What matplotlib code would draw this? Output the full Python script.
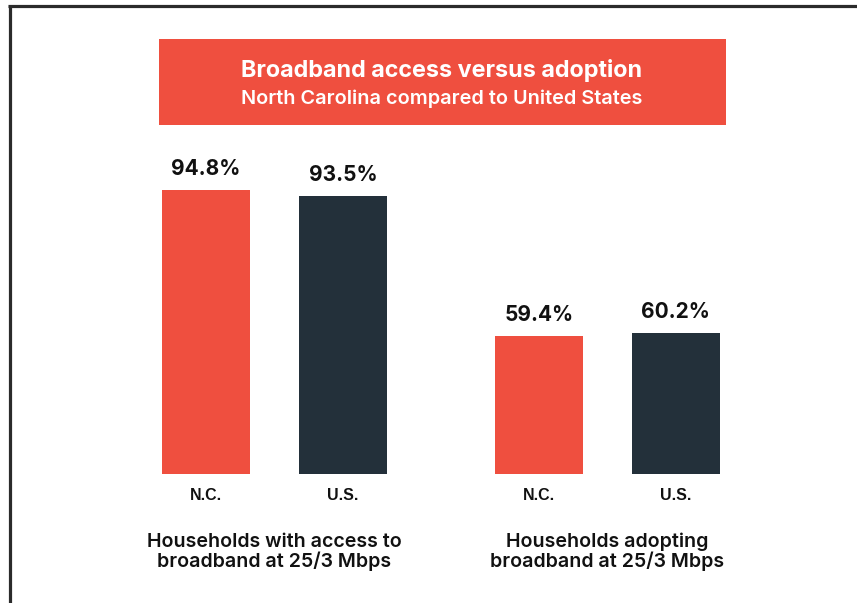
import matplotlib
matplotlib.use("Agg")
import matplotlib.pyplot as plt
from matplotlib.patches import Rectangle
from matplotlib.lines import Line2D
import matplotlib.transforms as mtransforms

# ---- data ----
groups = ["Households with access to\nbroadband at 25/3 Mbps",
          "Households adopting\nbroadband at 25/3 Mbps"]
series = ["N.C.", "U.S."]
nc_values = [94.8, 59.4]
us_values = [93.5, 60.2]
title = "Broadband access versus adoption"
subtitle = "North Carolina compared to United States"

RED = "#EF4F3F"
DARK = "#23303A"
TXT = "#111111"

W, H = 857, 603
fig = plt.figure(figsize=(W / 100, H / 100), dpi=100)
fig.patch.set_facecolor("white")

def fx(px):
    return px / W

def fy(py):
    return 1 - py / H

# border lines
fig.add_artist(Line2D([fx(8), 1.0], [fy(6), fy(6)], color="#2b2b2b", lw=2.3,
                      transform=fig.transFigure, solid_capstyle="butt"))
fig.add_artist(Line2D([fx(9.5), fx(9.5)], [0, fy(5)], color="#2b2b2b", lw=2.3,
                      transform=fig.transFigure, solid_capstyle="butt"))

# title box
fig.add_artist(Rectangle((fx(159), fy(125)), fx(726) - fx(159), fy(39) - fy(125),
                         transform=fig.transFigure, facecolor=RED, edgecolor="none"))
fig.text(fx(442), fy(77), title, ha="center", va="baseline", color="white",
         fontsize=16.8, fontweight="bold", family="Inter")
fig.text(fx(442), fy(104), subtitle, ha="center", va="baseline", color="white",
         fontsize=14.3, fontweight="semibold", family="Inter")

# axes: bottom at pixel 474, top at pixel 130
ax_left_px, ax_right_px = 100, 800
ax_top_px, ax_bot_px = 130, 474
ax = fig.add_axes([fx(ax_left_px), fy(ax_bot_px), fx(ax_right_px) - fx(ax_left_px),
                   fy(ax_top_px) - fy(ax_bot_px)])
unit_px = 137.0
ax.set_xlim((ax_left_px - 206) / unit_px, (ax_right_px - 206) / unit_px)
y0 = 25.8
ax.set_ylim(y0, y0 + (ax_bot_px - ax_top_px) / 4.113)
ax.axis("off")

group_gap = 2.43
bar_w = 88 / unit_px
trans = mtransforms.blended_transform_factory(ax.transData, fig.transFigure)
for g, (nc, us) in enumerate(zip(nc_values, us_values)):
    for s, (val, col) in enumerate(zip([nc, us], [RED, DARK])):
        x = g * group_gap + s
        ax.bar(x, val, width=bar_w, color=col, bottom=0)
        ax.annotate(f"{val:.1f}%", xy=(x, val), xytext=(0, 10.8),
                    textcoords="offset points", ha="center", va="baseline",
                    fontsize=15, fontweight="bold", color=TXT, family="Inter")
        ax.text(x, fy(500), series[s], transform=trans, ha="center", va="baseline",
                fontsize=11.5, fontweight="bold", color=TXT, family="Liberation Sans")
    ax.text(g * group_gap + 0.5, fy(567), groups[g], transform=trans, ha="center",
            va="baseline", fontsize=14.1, fontweight="semibold", color=TXT, family="Inter",
            linespacing=1.05)

fig.savefig("out.png", dpi=100, facecolor="white")
